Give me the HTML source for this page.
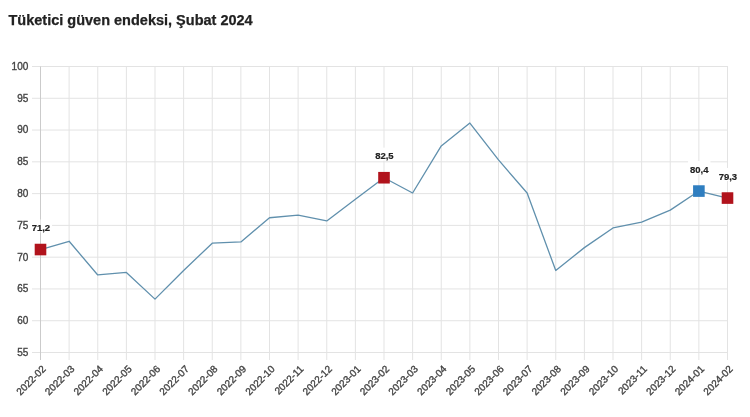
<!DOCTYPE html>
<html><head><meta charset="utf-8"><style>
html,body{margin:0;padding:0;background:#fff;}
body{width:750px;height:417px;overflow:hidden;position:relative;font-family:"Liberation Sans",Arial,sans-serif;}
h1{position:absolute;left:8.5px;top:12px;margin:0;font-size:14.5px;font-weight:bold;color:#222;white-space:nowrap;-webkit-text-stroke:0.25px #222;}
svg{position:absolute;left:0;top:0;}
.yl text{font-size:10px;fill:#444;stroke:#444;stroke-width:0.35px;}
.xl text{font-size:10px;fill:#444;stroke:#444;stroke-width:0.35px;}
.dl text{font-size:9.5px;font-weight:bold;fill:#222;stroke:#222;stroke-width:0.2px;}
</style></head><body>
<h1>Tüketici güven endeksi, Şubat 2024</h1>
<svg width="750" height="417" viewBox="0 0 750 417" font-family="Liberation Sans, Arial, sans-serif">
<g>
<line x1="32" y1="352.50" x2="728.0" y2="352.50" stroke="#e3e3e3"/>
<line x1="32" y1="320.72" x2="728.0" y2="320.72" stroke="#e3e3e3"/>
<line x1="32" y1="288.94" x2="728.0" y2="288.94" stroke="#e3e3e3"/>
<line x1="32" y1="257.17" x2="728.0" y2="257.17" stroke="#e3e3e3"/>
<line x1="32" y1="225.39" x2="728.0" y2="225.39" stroke="#e3e3e3"/>
<line x1="32" y1="193.61" x2="728.0" y2="193.61" stroke="#e3e3e3"/>
<line x1="32" y1="161.83" x2="728.0" y2="161.83" stroke="#e3e3e3"/>
<line x1="32" y1="130.06" x2="728.0" y2="130.06" stroke="#e3e3e3"/>
<line x1="32" y1="98.28" x2="728.0" y2="98.28" stroke="#e3e3e3"/>
<line x1="32" y1="66.50" x2="728.0" y2="66.50" stroke="#e3e3e3"/>
<line x1="40.5" y1="66.5" x2="40.5" y2="360" stroke="#e3e3e3"/>
<line x1="69.12" y1="66.5" x2="69.12" y2="360" stroke="#e3e3e3"/>
<line x1="97.75" y1="66.5" x2="97.75" y2="360" stroke="#e3e3e3"/>
<line x1="126.38" y1="66.5" x2="126.38" y2="360" stroke="#e3e3e3"/>
<line x1="155.0" y1="66.5" x2="155.0" y2="360" stroke="#e3e3e3"/>
<line x1="183.62" y1="66.5" x2="183.62" y2="360" stroke="#e3e3e3"/>
<line x1="212.25" y1="66.5" x2="212.25" y2="360" stroke="#e3e3e3"/>
<line x1="240.88" y1="66.5" x2="240.88" y2="360" stroke="#e3e3e3"/>
<line x1="269.5" y1="66.5" x2="269.5" y2="360" stroke="#e3e3e3"/>
<line x1="298.12" y1="66.5" x2="298.12" y2="360" stroke="#e3e3e3"/>
<line x1="326.75" y1="66.5" x2="326.75" y2="360" stroke="#e3e3e3"/>
<line x1="355.38" y1="66.5" x2="355.38" y2="360" stroke="#e3e3e3"/>
<line x1="384.0" y1="66.5" x2="384.0" y2="360" stroke="#e3e3e3"/>
<line x1="412.62" y1="66.5" x2="412.62" y2="360" stroke="#e3e3e3"/>
<line x1="441.25" y1="66.5" x2="441.25" y2="360" stroke="#e3e3e3"/>
<line x1="469.88" y1="66.5" x2="469.88" y2="360" stroke="#e3e3e3"/>
<line x1="498.5" y1="66.5" x2="498.5" y2="360" stroke="#e3e3e3"/>
<line x1="527.12" y1="66.5" x2="527.12" y2="360" stroke="#e3e3e3"/>
<line x1="555.75" y1="66.5" x2="555.75" y2="360" stroke="#e3e3e3"/>
<line x1="584.38" y1="66.5" x2="584.38" y2="360" stroke="#e3e3e3"/>
<line x1="613.0" y1="66.5" x2="613.0" y2="360" stroke="#e3e3e3"/>
<line x1="641.62" y1="66.5" x2="641.62" y2="360" stroke="#e3e3e3"/>
<line x1="670.25" y1="66.5" x2="670.25" y2="360" stroke="#e3e3e3"/>
<line x1="698.88" y1="66.5" x2="698.88" y2="360" stroke="#e3e3e3"/>
<line x1="727.5" y1="66.5" x2="727.5" y2="360" stroke="#e3e3e3"/>
</g>
<g class="yl">
<text x="28.3" y="355.8" text-anchor="end">55</text>
<text x="28.3" y="324.0" text-anchor="end">60</text>
<text x="28.3" y="292.2" text-anchor="end">65</text>
<text x="28.3" y="260.5" text-anchor="end">70</text>
<text x="28.3" y="228.7" text-anchor="end">75</text>
<text x="28.3" y="196.9" text-anchor="end">80</text>
<text x="28.3" y="165.1" text-anchor="end">85</text>
<text x="28.3" y="133.4" text-anchor="end">90</text>
<text x="28.3" y="101.6" text-anchor="end">95</text>
<text x="28.3" y="69.8" text-anchor="end">100</text>
</g>
<g class="xl">
<text transform="translate(44.0,367.2) rotate(-45)" text-anchor="end" y="3.5">2022-02</text>
<text transform="translate(72.6,367.2) rotate(-45)" text-anchor="end" y="3.5">2022-03</text>
<text transform="translate(101.2,367.2) rotate(-45)" text-anchor="end" y="3.5">2022-04</text>
<text transform="translate(129.9,367.2) rotate(-45)" text-anchor="end" y="3.5">2022-05</text>
<text transform="translate(158.5,367.2) rotate(-45)" text-anchor="end" y="3.5">2022-06</text>
<text transform="translate(187.1,367.2) rotate(-45)" text-anchor="end" y="3.5">2022-07</text>
<text transform="translate(215.8,367.2) rotate(-45)" text-anchor="end" y="3.5">2022-08</text>
<text transform="translate(244.4,367.2) rotate(-45)" text-anchor="end" y="3.5">2022-09</text>
<text transform="translate(273.0,367.2) rotate(-45)" text-anchor="end" y="3.5">2022-10</text>
<text transform="translate(301.6,367.2) rotate(-45)" text-anchor="end" y="3.5">2022-11</text>
<text transform="translate(330.2,367.2) rotate(-45)" text-anchor="end" y="3.5">2022-12</text>
<text transform="translate(358.9,367.2) rotate(-45)" text-anchor="end" y="3.5">2023-01</text>
<text transform="translate(387.5,367.2) rotate(-45)" text-anchor="end" y="3.5">2023-02</text>
<text transform="translate(416.1,367.2) rotate(-45)" text-anchor="end" y="3.5">2023-03</text>
<text transform="translate(444.8,367.2) rotate(-45)" text-anchor="end" y="3.5">2023-04</text>
<text transform="translate(473.4,367.2) rotate(-45)" text-anchor="end" y="3.5">2023-05</text>
<text transform="translate(502.0,367.2) rotate(-45)" text-anchor="end" y="3.5">2023-06</text>
<text transform="translate(530.6,367.2) rotate(-45)" text-anchor="end" y="3.5">2023-07</text>
<text transform="translate(559.2,367.2) rotate(-45)" text-anchor="end" y="3.5">2023-08</text>
<text transform="translate(587.9,367.2) rotate(-45)" text-anchor="end" y="3.5">2023-09</text>
<text transform="translate(616.5,367.2) rotate(-45)" text-anchor="end" y="3.5">2023-10</text>
<text transform="translate(645.1,367.2) rotate(-45)" text-anchor="end" y="3.5">2023-11</text>
<text transform="translate(673.8,367.2) rotate(-45)" text-anchor="end" y="3.5">2023-12</text>
<text transform="translate(702.4,367.2) rotate(-45)" text-anchor="end" y="3.5">2024-01</text>
<text transform="translate(731.0,367.2) rotate(-45)" text-anchor="end" y="3.5">2024-02</text>
</g>
<polyline points="40.50,249.54 69.12,241.28 97.75,274.96 126.38,272.42 155.00,299.11 183.62,270.51 212.25,243.18 240.88,241.91 269.50,217.76 298.12,215.22 326.75,220.94 355.38,199.33 384.00,177.72 412.62,192.98 441.25,145.94 469.88,123.06 498.50,159.93 527.12,192.98 555.75,270.51 584.38,247.63 613.00,227.93 641.62,222.21 670.25,210.14 698.88,191.07 727.50,198.06" fill="none" stroke="#6090ad" stroke-width="1.3" stroke-linejoin="round"/>
<g>
<rect x="34.70" y="243.74" width="11.6" height="11.6" fill="#b1131c"/>
<rect x="378.20" y="171.92" width="11.6" height="11.6" fill="#b1131c"/>
<rect x="693.08" y="185.27" width="11.6" height="11.6" fill="#2f7ec0"/>
<rect x="721.70" y="192.26" width="11.6" height="11.6" fill="#b1131c"/>
</g>
<g class="dl">
<rect x="29.70" y="219.44" width="22.4" height="13" fill="#fff"/>
<text x="40.90" y="231.04" text-anchor="middle">71,2</text>
<rect x="373.20" y="147.62" width="22.4" height="13" fill="#fff"/>
<text x="384.40" y="159.22" text-anchor="middle">82,5</text>
<rect x="688.08" y="160.97" width="22.4" height="13" fill="#fff"/>
<text x="699.27" y="172.57" text-anchor="middle">80,4</text>
<rect x="716.70" y="167.96" width="22.4" height="13" fill="#fff"/>
<text x="727.90" y="179.56" text-anchor="middle">79,3</text>
</g>
<path d="M40.5 66.5V243.7M40.5 255.4V360" stroke="#000" stroke-opacity="0.1" fill="none"/>
</svg>
</body></html>
